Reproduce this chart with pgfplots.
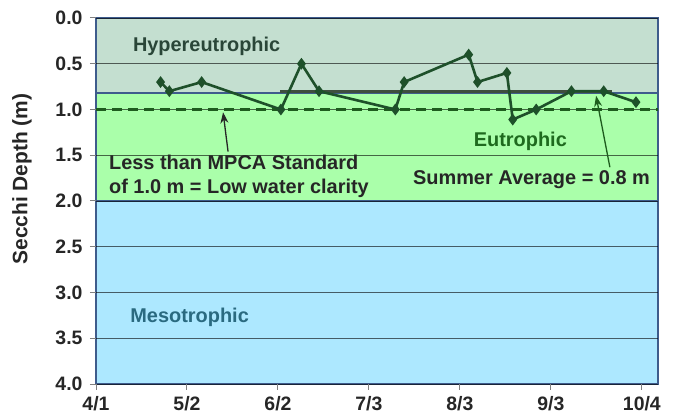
\documentclass[border=0pt]{standalone}
\usepackage{pgfplots}
\pgfplotsset{compat=1.18}
\usepackage{fontspec}
\setmainfont{Liberation Sans}
\usetikzlibrary{arrows.meta}
\definecolor{hyper}{RGB}{196,223,208}
\definecolor{eutro}{RGB}{170,255,170}
\definecolor{meso}{RGB}{173,232,255}
\definecolor{bandborder}{RGB}{62,92,140}
\definecolor{dataline}{RGB}{30,80,42}
\definecolor{dashc}{RGB}{30,92,30}
\definecolor{avgline}{RGB}{62,78,62}
\definecolor{hypertext}{RGB}{42,70,56}
\definecolor{eutrotext}{RGB}{30,106,30}
\definecolor{mesotext}{RGB}{42,106,128}
\begin{document}
\begin{tikzpicture}
\begin{axis}[
  set layers,
  at={(0,0)}, anchor=south west,
  scale only axis, width=562bp, height=366bp,
  xmin=0, xmax=191.5, ymin=0, ymax=4, y dir=reverse,
  xtick={0,31,62,93,124,155,186},
  xticklabels={4/1,5/2,6/2,7/3,8/3,9/3,10/4},
  ytick={0,0.5,1,1.5,2,2.5,3,3.5,4},
  ticklabel style={font=\fontsize{19.5}{19.5}\selectfont\bfseries, text=black!85},
  xticklabel style={yshift=-3bp},
  yticklabel style={xshift=-4bp, /pgf/number format/.cd, fixed, fixed zerofill, precision=1},
  /pgf/number format/assume math mode=true,
  xtick pos=lower, ytick pos=left,
  tick align=outside, major tick length=6bp,
  tick style={gray, line width=1bp},
  axis line style={draw=none},
  ymajorgrids, grid style={black, opacity=0.6, line width=0.9bp},
  clip=false,
]
\begin{pgfonlayer}{axis background}
\filldraw[fill=meso, draw=bandborder, line width=2.2bp] (axis cs:0,2) rectangle (axis cs:191.5,4);
\filldraw[fill=eutro, draw=bandborder, line width=2.2bp] (axis cs:0,0.82) rectangle (axis cs:191.5,2);
\filldraw[fill=hyper, draw=bandborder, line width=2.2bp] (axis cs:0,0) rectangle (axis cs:191.5,0.82);
\end{pgfonlayer}
\addplot[dashc, line width=2.6bp, dash pattern=on 10bp off 6bp] coordinates {(0,1) (191.5,1)};
\addplot[avgline, line width=3bp] coordinates {(62.7,0.8) (175.8,0.8)};
\addplot[dataline, line width=2.6bp, mark=diamond*, mark size=3.8bp, mark options={fill=dataline, solid}]
  coordinates {(22,0.70) (25,0.80) (36,0.70) (63,1.0) (70,0.50) (76,0.80) (102,1.0) (105,0.70)
               (127,0.40) (130,0.70) (140,0.60) (142,1.11) (150,1.0) (162,0.80) (173,0.80) (184,0.92)};
\draw[-{Stealth[length=11bp,width=8bp]}, line width=1.3bp, black!85] (axis cs:45,1.46) -- (axis cs:43.3,1.03);
\draw[-{Stealth[length=11bp,width=8bp]}, line width=1.3bp, dashc] (axis cs:175.1,1.63) -- (axis cs:170.4,0.85);
\node[font=\fontsize{20}{20}\selectfont\bfseries, text=hypertext] at (axis cs:37.7,0.31) {Hypereutrophic};
\node[font=\fontsize{20}{20}\selectfont\bfseries, text=eutrotext] at (axis cs:144.6,1.35) {Eutrophic};
\node[font=\fontsize{20}{20}\selectfont\bfseries, text=mesotext] at (axis cs:31.9,3.27) {Mesotrophic};
\node[font=\fontsize{20}{23.5}\selectfont\bfseries, text=black!85, align=left, anchor=west, inner sep=0pt] at (axis cs:4.4,1.73) {Less than MPCA Standard\\of 1.0 m = Low water clarity};
\node[font=\fontsize{20}{20}\selectfont\bfseries, text=black!85] at (axis cs:148.4,1.77) {Summer Average = 0.8 m};
\end{axis}
\node[rotate=90, font=\fontsize{21}{21}\selectfont\bfseries, text=black!85] at (-74bp,205bp) {Secchi Depth (m)};
\pgfresetboundingbox
\path[use as bounding box] (-96bp,-32bp) rectangle (585bp,384bp);
\end{tikzpicture}
\end{document}
